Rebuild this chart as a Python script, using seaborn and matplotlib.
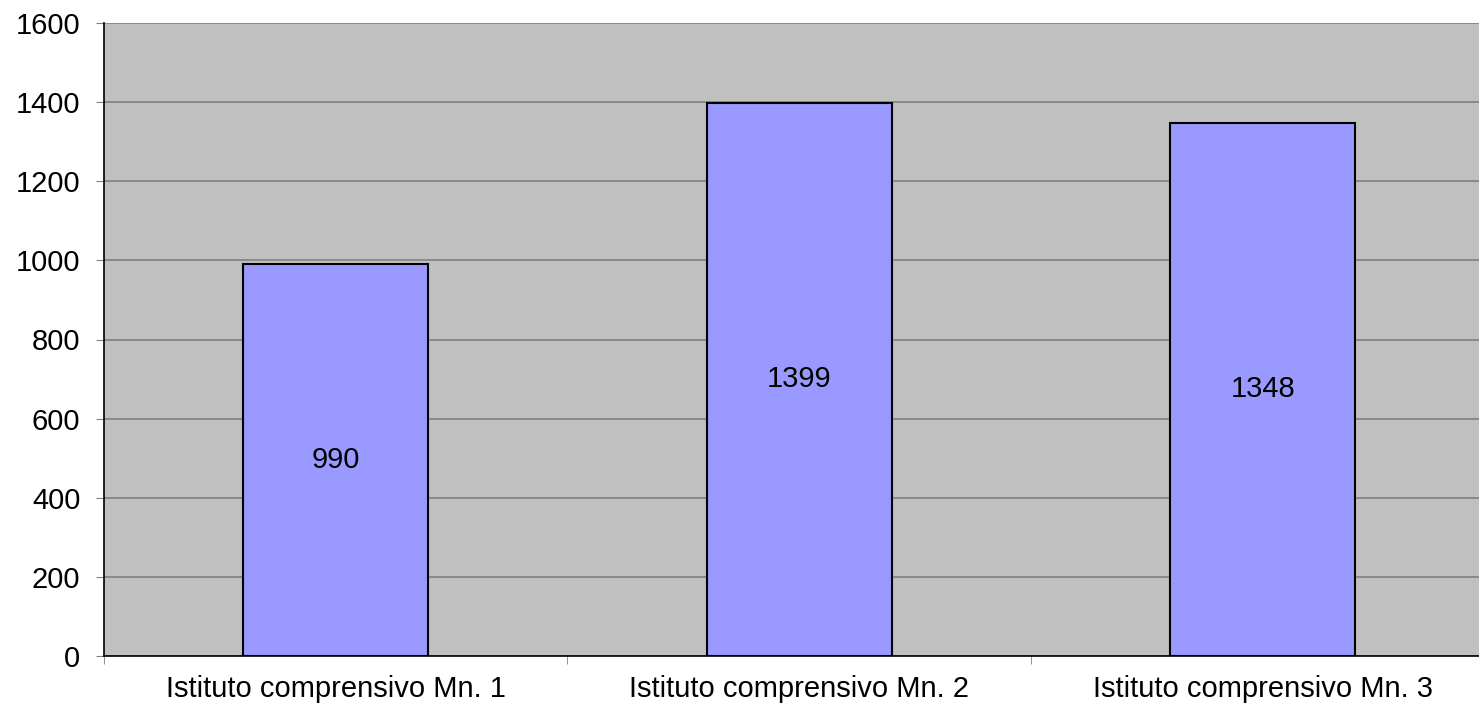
import matplotlib
matplotlib.use('Agg')
import matplotlib.pyplot as plt
import seaborn as sns
import pandas as pd

# data
schools = ['Istituto comprensivo Mn. 1', 'Istituto comprensivo Mn. 2', 'Istituto comprensivo Mn. 3']
students = [990, 1399, 1348]
y_ticks = [0, 200, 400, 600, 800, 1000, 1200, 1400, 1600]

df = pd.DataFrame({'scuola': schools, 'alunni': students})

sns.set_style('white')
plt.rcParams['font.family'] = ['Liberation Sans', 'DejaVu Sans']
plt.rcParams['text.color'] = 'black'
plt.rcParams['xtick.color'] = 'black'
plt.rcParams['ytick.color'] = 'black'

fig = plt.figure(figsize=(14.79, 7.08), dpi=100)
# axes runs a bit past the right edge like the original
ax = fig.add_axes([104 / 1479, 52 / 708, 1390.5 / 1479, 633 / 708])
ax.set_facecolor('#C0C0C0')

sns.barplot(data=df, x='scuola', y='alunni', color='#9999FF', width=0.4,
            edgecolor='black', linewidth=1.5, saturation=1, ax=ax, zorder=3)

# value labels in the middle of each bar
for i, v in enumerate(students):
    ax.text(i, v / 2, str(v), ha='center', va='center', fontsize=21,
            color='black', zorder=4)

ax.set_ylim(0, 1600)
ax.set_xlim(-0.5, 2.5)
ax.set_yticks(y_ticks)
ax.yaxis.grid(True, color='#808080', linewidth=1.2, zorder=0)
ax.set_axisbelow(True)

ax.set_xlabel('')
ax.set_ylabel('')
ax.tick_params(axis='y', labelsize=21, length=6, color='#808080',
               labelcolor='black', left=True, pad=11)
ax.tick_params(axis='x', labelsize=21, length=0, labelcolor='black', pad=14)

# category boundary ticks
ax.set_xticks([-0.5, 0.5, 1.5, 2.5], minor=True)
ax.tick_params(axis='x', which='minor', length=6, color='#808080', bottom=True)

for side in ['top', 'right']:
    ax.spines[side].set_visible(False)
ax.spines['left'].set_color('black')
ax.spines['bottom'].set_color('black')
ax.spines['left'].set_linewidth(1.2)
ax.spines['bottom'].set_linewidth(1.2)

plt.savefig('out.png', dpi=100)
